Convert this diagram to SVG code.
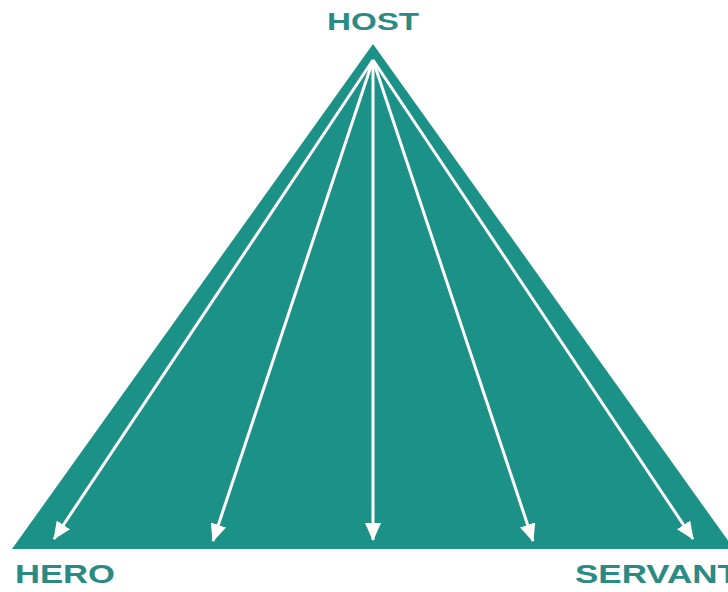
<svg xmlns="http://www.w3.org/2000/svg" width="728" height="592" viewBox="0 0 728 592">
  <style>
    .lbl { font-family: "Liberation Sans", Arial, sans-serif; font-weight: bold; fill: #2a8a84; }
    .arr { stroke: #ffffff; stroke-width: 3; fill: none; marker-end: url(#ah); }
  </style>
  <defs>
    <marker id="ah" markerUnits="userSpaceOnUse" markerWidth="18" markerHeight="16" refX="17" refY="8" orient="auto" viewBox="0 0 18 16">
      <path d="M0,0 L18,8 L0,16 z" fill="#ffffff"/>
    </marker>
  </defs>
  <rect width="728" height="592" fill="#ffffff"/>
  <g id="pyramid">
    <polygon points="373,44 12,549 734,549" fill="#1b9188"/>
  </g>
  <g id="host">
    <text class="lbl" x="327" y="30" font-size="24" textLength="92" lengthAdjust="spacingAndGlyphs">HOST</text>
  </g>
  <g id="hero">
    <text class="lbl" x="15" y="583" font-size="25" textLength="100" lengthAdjust="spacingAndGlyphs">HERO</text>
  </g>
  <g id="servant">
    <text class="lbl" x="575" y="583" font-size="25" textLength="164" lengthAdjust="spacingAndGlyphs">SERVANT</text>
  </g>
  <g id="connectors">
    <line class="arr" x1="373" y1="60" x2="54" y2="539"/>
    <line class="arr" x1="373" y1="60" x2="213" y2="541"/>
    <line class="arr" x1="373" y1="60" x2="373" y2="540"/>
    <line class="arr" x1="373" y1="60" x2="533" y2="541"/>
    <line class="arr" x1="373" y1="60" x2="693" y2="539"/>
  </g>
</svg>
